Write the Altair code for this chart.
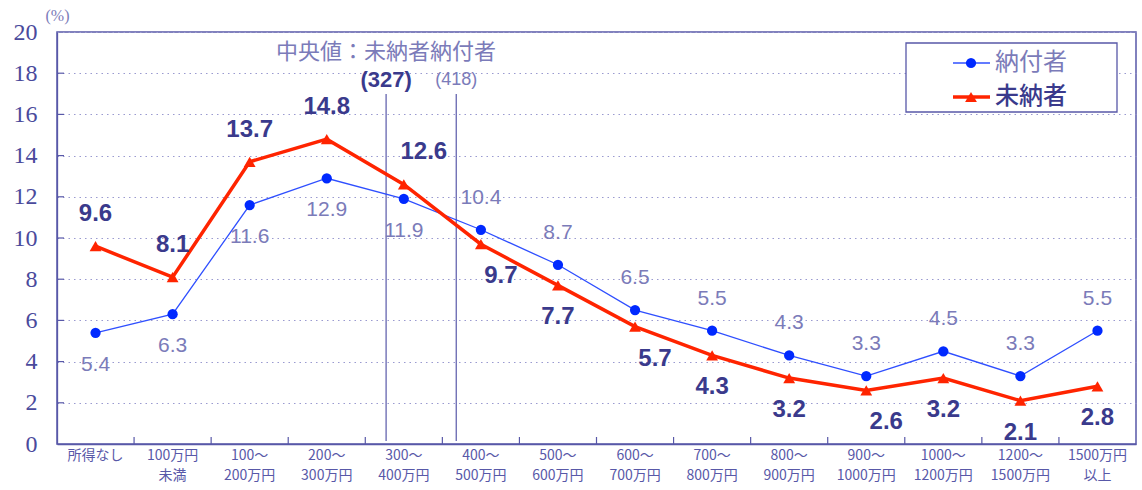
import altair as alt
import pandas as pd

# Income brackets (annual income), left to right
categories = [
    "所得なし", "100万円\n未満", "100～\n200万円", "200～\n300万円",
    "300～\n400万円", "400～\n500万円", "500～\n600万円", "600～\n700万円",
    "700～\n800万円", "800～\n900万円", "900～\n1000万円", "1000～\n1200万円",
    "1200～\n1500万円", "1500万円\n以上",
]
# Share of each group by income bracket (%)
paid = [5.4, 6.3, 11.6, 12.9, 11.9, 10.4, 8.7, 6.5, 5.5, 4.3, 3.3, 4.5, 3.3, 5.5]
unpaid = [9.6, 8.1, 13.7, 14.8, 12.6, 9.7, 7.7, 5.7, 4.3, 3.2, 2.6, 3.2, 2.1, 2.8]
series_names = ["納付者", "未納者"]

# Median income (万円) per group
median_series = ["未納者", "納付者"]
median_income = [327, 418]

y_ticks = list(range(0, 21, 2))

C_PAID_LINE = "#2f4fff"
C_PAID_DOT = "#0029ff"
C_UNPAID = "#ff2400"
C_AXIS = "#5858a8"
C_GRID = "#9a9ad0"
C_LIGHT = "#7b7bb9"
C_DARK = "#3a3a8c"
NUM_FONT = "Liberation Sans"
JP_FONT = "Noto Sans CJK JP"

W, H = 1079, 412

rows = []
for i, cat in enumerate(categories):
    p, u = paid[i], unpaid[i]
    near = abs(p - u) < 0.8
    rows.append(dict(cat=cat, series=series_names[0], value=p, upper=p > u, near=near))
    rows.append(dict(cat=cat, series=series_names[1], value=u, upper=u > p, near=near))
df = pd.DataFrame(rows)

x_scale = alt.Scale(type="band", domain=categories, paddingInner=0, paddingOuter=0)
y_scale = alt.Scale(domain=[0, 20], nice=False, zero=True)

x_axis = alt.Axis(
    title=None, labelAngle=0, ticks=False, grid=False, domainColor=C_AXIS,
    domainWidth=1.3, labelFont=JP_FONT, labelFontSize=14, labelColor=C_AXIS,
    labelLineHeight=20, labelPadding=4, labelOverlap=False,
    labelExpr="split(datum.label, '\\n')",
)
y_axis = alt.Axis(
    values=y_ticks, title="(%)", titleAngle=0, titleAlign="left",
    titleBaseline="middle", titleX=-12, titleY=-17, titleFont="Liberation Serif",
    titleFontSize=16, titleFontWeight="normal", titleColor=C_LIGHT,
    ticks=False, domainColor=C_AXIS, domainWidth=1.3,
    labelFont="Liberation Serif", labelFontSize=24, labelColor="#4a4a9c",
    labelPadding=20, grid=True, gridColor=C_GRID, gridDash=[1.5, 4], gridWidth=1.2,
)


def X(field="cat", **kw):
    return alt.X(f"{field}:N", scale=x_scale, axis=x_axis, **kw)


def Y(field="value"):
    return alt.Y(f"{field}:Q", scale=y_scale, axis=y_axis)


base = alt.Chart(df)

# Short inward tick marks on both axes
x_ticks = alt.Chart(pd.DataFrame({"cat": categories[1:]})).mark_rule(
    color=C_AXIS, strokeWidth=1.2
).encode(x=X(bandPosition=0), y=alt.value(H), y2=alt.value(H - 7))

y_tick_marks = alt.Chart(pd.DataFrame({"t": y_ticks[1:-1]})).mark_rule(
    color=C_AXIS, strokeWidth=1.2
).encode(x=alt.value(0), x2=alt.value(7), y=Y("t"))

# Median markers
median_layers = []
for name, v in zip(median_series, median_income):
    idx = v // 100 + 1
    frac = (v - (v // 100) * 100) / 100
    mdf = pd.DataFrame({"cat": [categories[idx]], "label": [f"({v})"]})
    is_unpaid = name == series_names[1]
    rule = alt.Chart(mdf).mark_rule(color=C_AXIS, strokeWidth=1.2).encode(
        x=X(bandPosition=frac), y=alt.value(62), y2=alt.value(H - 3)
    )
    txt = alt.Chart(mdf).mark_text(
        font=NUM_FONT,
        fontSize=22 if is_unpaid else 18,
        fontWeight="bold" if is_unpaid else "normal",
        color=C_DARK if is_unpaid else C_LIGHT,
        baseline="middle",
    ).encode(x=X(bandPosition=frac), y=alt.value(48), text="label:N")
    median_layers += [rule, txt]

first_v = median_income[0]
title_df = pd.DataFrame({
    "cat": [categories[first_v // 100 + 1]],
    "label": ["中央値：" + "".join(median_series)],
})
median_title = alt.Chart(title_df).mark_text(
    font=JP_FONT, fontSize=22, color=C_LIGHT, baseline="middle"
).encode(
    x=X(bandPosition=(first_v % 100) / 100), y=alt.value(20), text="label:N"
)

# Series lines and markers
paid_df = base.transform_filter(alt.datum.series == series_names[0])
unpaid_df = base.transform_filter(alt.datum.series == series_names[1])

paid_line = paid_df.mark_line(color=C_PAID_LINE, strokeWidth=1.3).encode(x=X(), y=Y())
paid_dots = paid_df.mark_circle(color=C_PAID_DOT, size=105, opacity=1).encode(x=X(), y=Y())
unpaid_line = unpaid_df.mark_line(color=C_UNPAID, strokeWidth=3.5).encode(x=X(), y=Y())
unpaid_tris = unpaid_df.mark_point(
    shape="triangle-up", filled=True, color=C_UNPAID, size=140, opacity=1
).encode(x=X(), y=Y())

# Value labels: the higher series of a bracket is labelled above, the lower below
OFF = 32


def label_layer(src, upper, style, dx=0, extra=None):
    cond = alt.datum.upper if upper else ~alt.datum.upper
    ch = src.transform_filter(cond)
    if extra is not None:
        ch = ch.transform_filter(extra)
    return ch.mark_text(baseline="middle", dy=-OFF if upper else OFF, dx=dx, **style).encode(
        x=X(), y=Y(), text=alt.Text("value:Q", format=".1f")
    )


paid_style = dict(font=NUM_FONT, fontSize=21, color=C_LIGHT)
unpaid_style = dict(font=NUM_FONT, fontSize=24, fontWeight="bold", color=C_DARK)

labels = [
    label_layer(paid_df, True, paid_style),
    label_layer(paid_df, False, paid_style),
    label_layer(unpaid_df, True, unpaid_style, extra=~alt.datum.near),
    label_layer(unpaid_df, True, unpaid_style, dx=20, extra=alt.datum.near),
    label_layer(unpaid_df, False, unpaid_style, extra=~alt.datum.near),
    label_layer(unpaid_df, False, unpaid_style, dx=20, extra=alt.datum.near),
]

# Legend box
legend_box = alt.Chart(pd.DataFrame({"k": [0]})).mark_rect(
    fill="white", stroke=C_AXIS, strokeWidth=1.3
).encode(x=alt.value(849), x2=alt.value(1060), y=alt.value(11), y2=alt.value(80))

legend_layers = [legend_box]
legend_rows = [
    (series_names[0], 31, C_PAID_LINE, 1.3, "circle", C_PAID_DOT, 105, C_LIGHT, "normal"),
    (series_names[1], 65, C_UNPAID, 3.5, "triangle-up", C_UNPAID, 140, C_DARK, 500),
]
for name, yy, lc, lw, shape, mc, ms, tc, tw in legend_rows:
    ldf = alt.Chart(pd.DataFrame({"label": [name]}))
    legend_layers.append(
        ldf.mark_rule(color=lc, strokeWidth=lw).encode(
            x=alt.value(896), x2=alt.value(933), y=alt.value(yy)
        )
    )
    legend_layers.append(
        ldf.mark_point(shape=shape, filled=True, color=mc, size=ms, opacity=1).encode(
            x=alt.value(914), y=alt.value(yy)
        )
    )
    legend_layers.append(
        ldf.mark_text(
            font=JP_FONT, fontSize=24, fontWeight=tw, color=tc, align="left", baseline="middle"
        ).encode(x=alt.value(938), y=alt.value(yy), text="label:N")
    )

chart = alt.layer(
    x_ticks, y_tick_marks, *median_layers, median_title,
    paid_line, paid_dots, unpaid_line, unpaid_tris, *labels, *legend_layers,
).properties(
    width=W, height=H,
    padding={"left": 57, "top": 32, "right": 6, "bottom": 46},
    autosize=alt.AutoSizeParams(type="none"),
    background="white",
).configure_view(stroke=C_AXIS, strokeWidth=1.5)

chart.save("out.html", embed_options={"renderer": "svg", "actions": False})
